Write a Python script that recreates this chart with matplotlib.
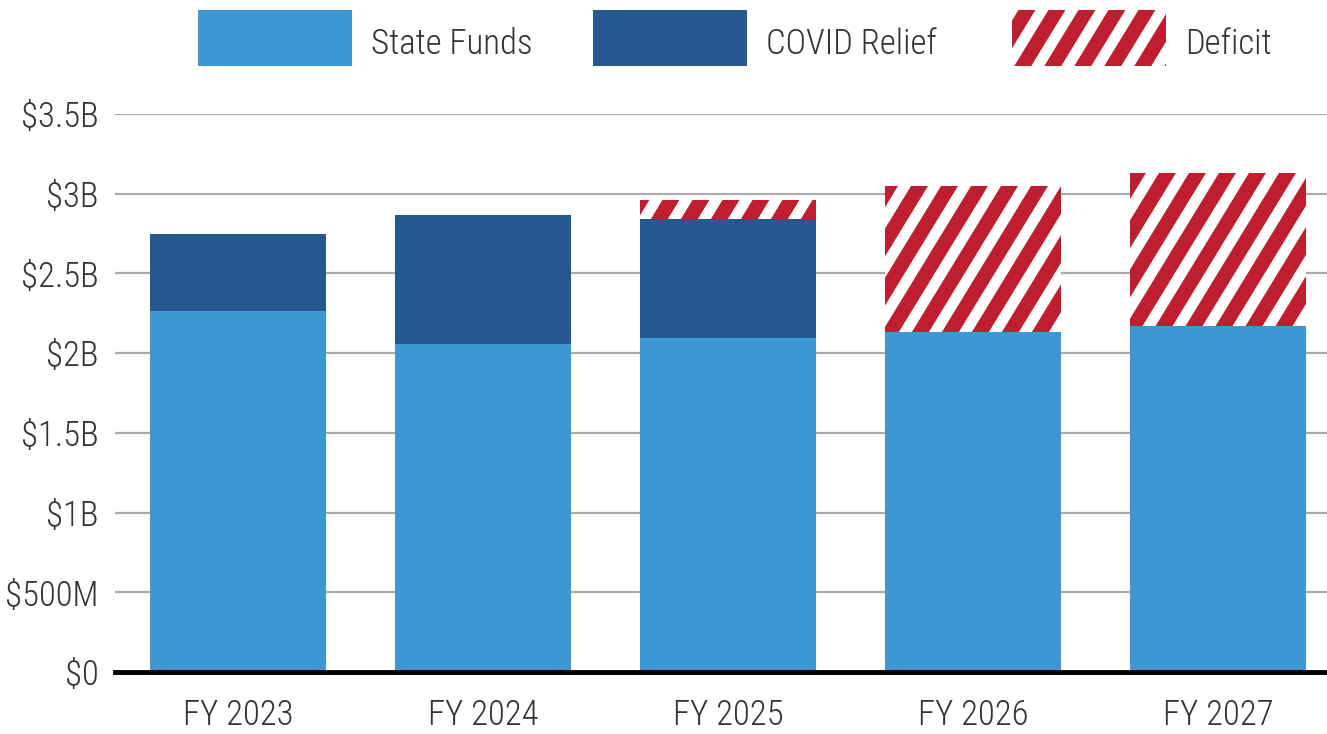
import numpy as np
import matplotlib
matplotlib.use("Agg")
import matplotlib.pyplot as plt
from matplotlib.patches import Rectangle
from matplotlib.collections import LineCollection
from matplotlib.transforms import IdentityTransform
from matplotlib import font_manager as fm

# pick a narrow font if available
names = {f.name for f in fm.fontManager.ttflist}
FONT = None
for cand in ["Roboto Condensed", "Liberation Sans Narrow", "DejaVu Sans Condensed"]:
    if cand in names:
        FONT = cand
        break
STRETCH = 'normal'
if FONT is None:
    FONT = 'DejaVu Sans'
    STRETCH = 'condensed'
plt.rcParams['font.family'] = [FONT, 'DejaVu Sans']
plt.rcParams['font.stretch'] = STRETCH
plt.rcParams['font.weight'] = 'light'

categories = ["FY 2023", "FY 2024", "FY 2025", "FY 2026", "FY 2027"]
state_funds = [2.265, 2.058, 2.095, 2.133, 2.170]
covid_relief = [0.483, 0.809, 0.746, 0.0, 0.0]
deficit = [0.0, 0.0, 0.120, 0.915, 0.960]
yticks = [0, 0.5, 1.0, 1.5, 2.0, 2.5, 3.0, 3.5]
ytick_labels = ["$0", "$500M", "$1B", "$1.5B", "$2B", "$2.5B", "$3B", "$3.5B"]
legend_labels = ["State Funds", "COVID Relief", "Deficit"]

C_STATE = "#3E97D3"
C_COVID = "#25588F"
C_DEF = "#BE1E2D"
TXT = "#333333"

W, H = 1327, 734
fig = plt.figure(figsize=(W / 100, H / 100), dpi=100)
ax = fig.add_axes([115 / W, (H - 672) / H, (W - 115) / W, 558 / H])

x = np.arange(len(categories))
bw = 0.72
b1 = ax.bar(x, state_funds, bw, color=C_STATE, zorder=3, linewidth=0)
b2 = ax.bar(x, covid_relief, bw, bottom=state_funds, color=C_COVID, zorder=3, linewidth=0)
bottom3 = np.array(state_funds) + np.array(covid_relief)
b3 = ax.bar(x, deficit, bw, bottom=bottom3, color=C_DEF, zorder=3, linewidth=0)

ax.set_xlim(-0.502, -0.502 + (W - 115) / 245)
ax.set_ylim(0, 3.5)

# stripes
theta = np.deg2rad(58.6)
period = 30.0
stripe_lw = 8.0


def stripe_segments():
    segs = []
    for k in range(-40, 80):
        c = k * period
        segs.append([(c, 0), (c + H / np.tan(theta), H)])
    return segs


for rect in b3.patches:
    if rect.get_height() <= 0:
        continue
    lc = LineCollection(stripe_segments(), colors="white", linewidths=stripe_lw,
                        transform=IdentityTransform(), zorder=4)
    ax.add_collection(lc, autolim=False)
    lc.set_clip_path(rect)

FS = 25
ax.set_yticks(yticks)
ax.set_yticklabels(ytick_labels)
ax.set_xticks(x)
ax.set_xticklabels(categories)
ax.tick_params(axis='both', length=0, labelsize=FS, colors=TXT)
ax.tick_params(axis='y', pad=12)
ax.tick_params(axis='x', pad=19)
ax.yaxis.grid(True, color="#AAAAAA", linewidth=1.6, zorder=0)
for s in ["top", "right", "left"]:
    ax.spines[s].set_visible(False)
ax.spines["bottom"].set_linewidth(3.5)
ax.spines["bottom"].set_color("black")
ax.spines["bottom"].set_zorder(5)
ax.set_axisbelow(True)

# legend (manual)
leg_x = [198, 593, 1012]
leg_colors = [C_STATE, C_COVID, C_DEF]
for i, (lx, col, lab) in enumerate(zip(leg_x, leg_colors, legend_labels)):
    r = Rectangle((lx / W, (H - 66) / H), 154 / W, 56 / H, transform=fig.transFigure,
                  facecolor=col, edgecolor='none')
    fig.add_artist(r)
    if i == 2:
        lc = LineCollection(stripe_segments(), colors="white", linewidths=stripe_lw,
                            transform=IdentityTransform())
        fig.add_artist(lc)
        lc.set_clip_path(r)
    fig.text((lx + 173) / W, (H - 44) / H, lab, fontsize=FS, color=TXT,
             ha='left', va='center')

fig.savefig("out.png", dpi=100, facecolor="white")
